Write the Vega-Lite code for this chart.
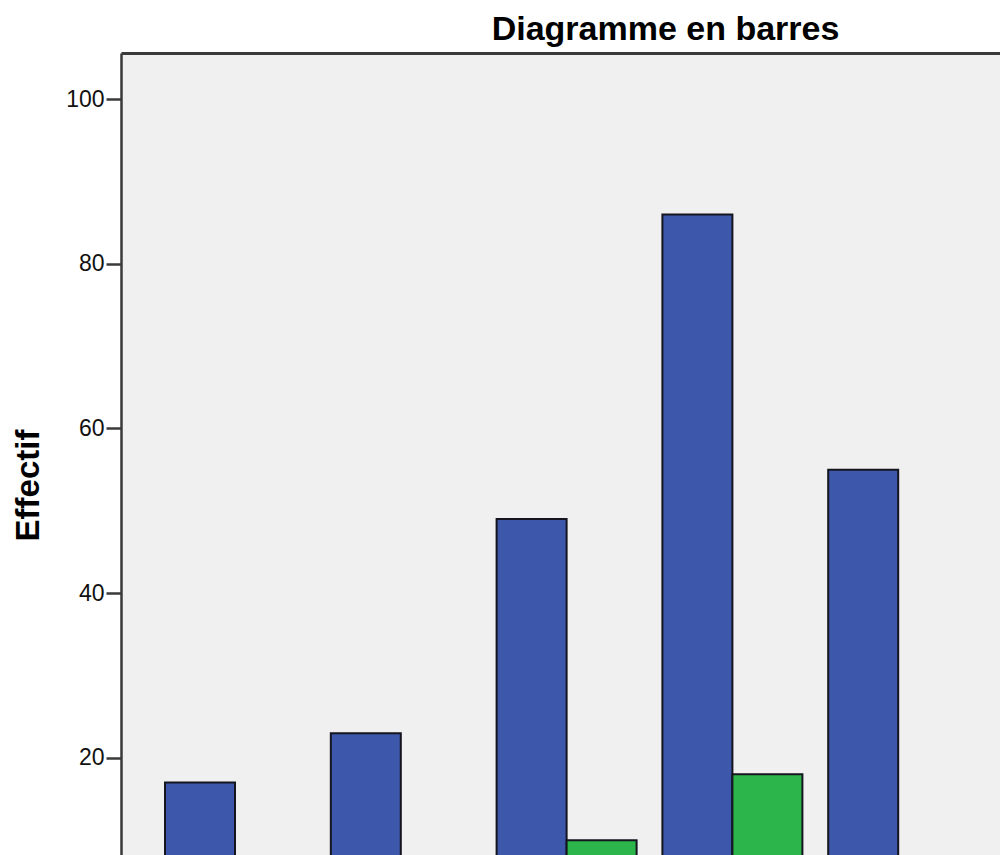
{
  "$schema": "https://vega.github.io/schema/vega-lite/v6.json",
  "width": 879,
  "height": 802,
  "autosize": {"type": "none"},
  "padding": {"left": 121, "top": 53, "right": 0, "bottom": 0},
  "background": "white",
  "title": {
    "text": "Diagramme en barres",
    "font": "Liberation Sans",
    "fontSize": 34,
    "fontWeight": "bold",
    "color": "#000000",
    "anchor": "middle",
    "dx": 105,
    "dy": 36,
    "baseline": "alphabetic",
    "offset": 15
  },
  "config": {"view": {"fill": "#f0f0f0", "stroke": null}},
  "data": {
    "values": [
      {"categorie": "1", "serie": "A", "effectif": 17},
      {"categorie": "2", "serie": "A", "effectif": 23},
      {"categorie": "3", "serie": "A", "effectif": 49},
      {"categorie": "3", "serie": "B", "effectif": 10},
      {"categorie": "4", "serie": "A", "effectif": 86},
      {"categorie": "4", "serie": "B", "effectif": 18},
      {"categorie": "5", "serie": "A", "effectif": 55}
    ]
  },
  "mark": {"type": "bar", "clip": true, "stroke": "#15151f", "strokeWidth": 2},
  "encoding": {
    "x": {
      "field": "categorie",
      "type": "nominal",
      "scale": {"paddingInner": 0.1556, "paddingOuter": 0.2286, "align": 0.5805, "round": false},
      "axis": {"orient": "top", "labels": false, "ticks": false, "title": null, "domainColor": "#3a3a3a", "domainWidth": 3}
    },
    "xOffset": {
      "field": "serie",
      "type": "nominal",
      "scale": {"paddingInner": 0, "paddingOuter": 0}
    },
    "y": {
      "field": "effectif",
      "type": "quantitative",
      "scale": {"domain": [8.2, 105.6], "nice": false, "zero": false},
      "axis": {
        "values": [20, 40, 60, 80, 100],
        "grid": false,
        "tickSize": 15,
        "tickWidth": 2.5,
        "tickColor": "#3a3a3a",
        "domainColor": "#3a3a3a",
        "domainWidth": 2.5,
        "labelFont": "Liberation Sans",
        "labelFontSize": 23,
        "labelColor": "#111111",
        "labelPadding": 2,
        "title": "Effectif",
        "titleFont": "Liberation Sans",
        "titleFontSize": 33,
        "titleFontWeight": "bold",
        "titleColor": "#000000",
        "titleX": -83,
        "titleY": 432,
        "titleBaseline": "alphabetic",
        "titleAlign": "center"
      }
    },
    "y2": {"datum": 0},
    "color": {
      "field": "serie",
      "type": "nominal",
      "scale": {"domain": ["A", "B"], "range": ["#3d57aa", "#2cb54a"]},
      "legend": null
    }
  }
}
